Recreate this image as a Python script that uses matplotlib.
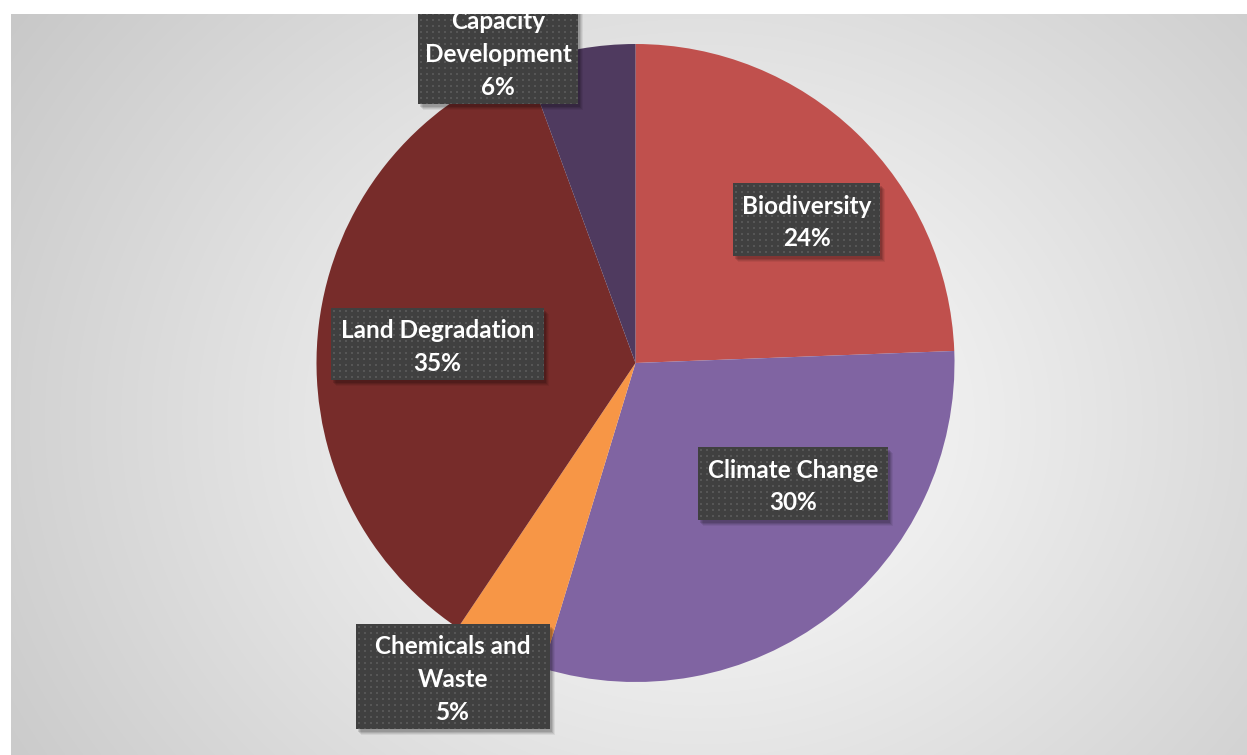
import numpy as np
import matplotlib
matplotlib.use("Agg")
import matplotlib.pyplot as plt
from matplotlib.patches import Rectangle

# ---- data ----
categories = ["Biodiversity", "Climate Change", "Chemicals and Waste",
              "Land Degradation", "Capacity Development"]
shares = [24.4, 30.3, 4.7, 35.0, 5.6]
label_lines = [["Biodiversity"], ["Climate Change"], ["Chemicals and", "Waste"],
               ["Land Degradation"], ["Capacity", "Development"]]
colors = ["#C0504D", "#8064A2", "#F79646", "#772C2A", "#4F3A5F"]

# ---- layout (pixel coordinates, y measured from top) ----
W, H = 1247, 755
center_px = (635.5, 363)
radius_px = 319
# label boxes: (x0, y0_top, x1, y1_bottom)
boxes = [(733, 183, 880, 256), (698, 447, 888, 520), (356, 624, 550, 729),
         (331, 308, 544, 380), (418, -1, 578, 104)]
line_pitch = 33
baseline_off = 10.5

fig = plt.figure(figsize=(W / 100, H / 100), dpi=100)
ax = fig.add_axes([0, 0, 1, 1])
fig.patch.set_facecolor("white")

def Y(y):
    return H - y

# background radial gradient
bx0, by0 = 11, 14
yy, xx = np.mgrid[by0:H, bx0:W]
gc = (700, 420)
d = np.hypot(xx - gc[0], (yy - gc[1]) / 0.85)
dmax = np.hypot(700 - bx0, (420 - by0) / 0.85)
t = np.clip(d / dmax, 0, 1)
lo, hi = 255, 200
val = hi + (lo - hi) * (1 - t) ** 1.0
val = np.clip(val, 0, 255) / 255.0
img = np.dstack([val, val, val])
ax.imshow(img, extent=(bx0, W, Y(H), Y(by0)), origin="upper", zorder=0,
          interpolation="bilinear", aspect="auto")

# pie
wedges, _ = ax.pie(shares, colors=colors, startangle=90, counterclock=False,
                   center=(center_px[0], Y(center_px[1])), radius=radius_px,
                   wedgeprops=dict(linewidth=0, antialiased=True))
for w in wedges:
    w.set_zorder(2)

# label boxes with dotted texture and shadow
def dotted(wp, hp):
    arr = np.empty((hp, wp, 3))
    arr[:] = 64 / 255
    for r in range(2, hp, 6):
        for c in range(2, wp, 6):
            arr[r:r + 2, c:c + 2] = 86 / 255
    return arr

for i, (cat, share) in enumerate(zip(categories, shares)):
    x0, y0, x1, y1 = boxes[i]
    for k, a in [(6, 0.06), (5, 0.08), (4, 0.10), (3, 0.12)]:
        ax.add_patch(Rectangle((x0 + k - 1, Y(y1 + k)), x1 - x0, y1 - y0,
                               facecolor="black", alpha=a, linewidth=0, zorder=3))
    wp, hp = int(x1 - x0), int(y1 - y0)
    ax.imshow(dotted(wp, hp), extent=(x0, x1, Y(y1), Y(y0)), origin="upper",
              zorder=4, interpolation="nearest", aspect="auto")
    lines = label_lines[i] + [f"{round(share)}%"]
    n = len(lines)
    cy = (y0 + y1) / 2
    for j, ln in enumerate(lines):
        ly = cy + (j - (n - 1) / 2) * line_pitch + baseline_off
        ax.text((x0 + x1) / 2, Y(ly), ln, ha="center", va="baseline",
                color="white", fontsize=17.5, fontweight="bold",
                family=["Lato", "DejaVu Sans"], zorder=5)

# white frame (top band, left strip)
ax.add_patch(Rectangle((0, Y(by0)), W, by0 + 5, facecolor="white", linewidth=0, zorder=10))
ax.add_patch(Rectangle((0, 0), bx0, H, facecolor="white", linewidth=0, zorder=10))

ax.set_xlim(0, W)
ax.set_ylim(0, H)
ax.set_aspect("auto")
ax.axis("off")

fig.savefig("out.png", dpi=100, facecolor="white")
